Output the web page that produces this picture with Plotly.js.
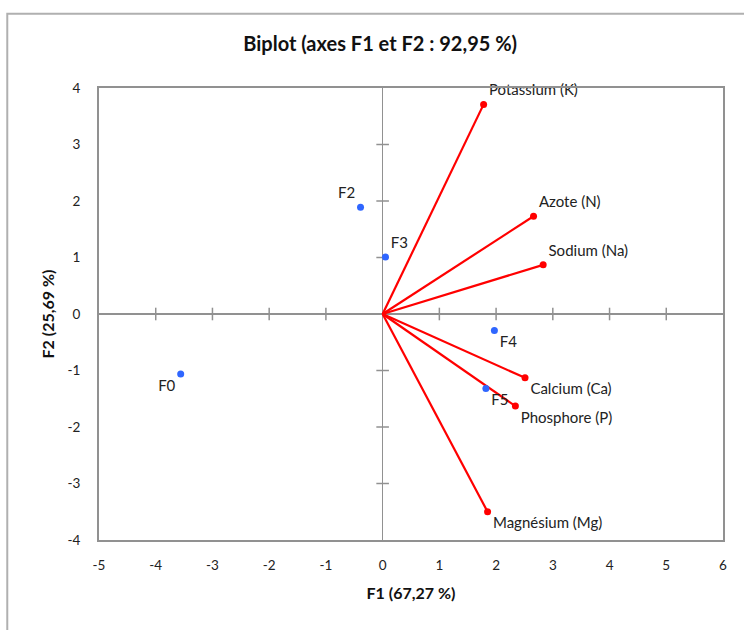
<!DOCTYPE html>
<html>
<head>
<meta charset="utf-8">
<script src="https://cdn.plot.ly/plotly-3.0.1.min.js"></script>
<style>html,body{margin:0;padding:0;background:#fff;}#chart{width:744px;height:630px;}</style>
</head>
<body>
<div id="chart"></div>
<script>
// Observations (blue points)
const obsNames = ["F0", "F2", "F3", "F4", "F5"];
const obsF1 = [-3.56, -0.39, 0.05, 1.97, 1.82];
const obsF2 = [-1.06, 1.89, 1.01, -0.29, -1.32];

// Variables (red vectors)
const varNames = ["Potassium (K)", "Azote (N)", "Sodium (Na)", "Calcium (Ca)", "Phosphore (P)", "Magnésium (Mg)"];
const varF1 = [1.78, 2.66, 2.83, 2.51, 2.34, 1.85];
const varF2 = [3.71, 1.73, 0.87, -1.13, -1.63, -3.50];

// Axis ticks
const xTicks = [-5, -4, -3, -2, -1, 0, 1, 2, 3, 4, 5, 6];
const yTicks = [-4, -3, -2, -1, 0, 1, 2, 3, 4];

// label placement (style)
const obsTextPos = ["bottom left", "top left", "top right", "bottom right", "bottom right"];
const varTextPos = ["top right", "top right", "top right", "bottom right", "bottom right", "bottom right"];

const FONT = "Lato, 'Liberation Sans', sans-serif";
const RED = "#ff0000";
const BLUE = "#2f66ff";
const GREY = "#919191";

// vector lines
const lx = [], ly = [];
varF1.forEach((v, i) => { lx.push(0, v, null); ly.push(0, varF2[i], null); });

// cross ticks on zero lines
const xt = xTicks.filter(t => t !== 0 && t !== xTicks[0] && t !== xTicks[xTicks.length - 1]);
const yt = yTicks.filter(t => t !== 0 && t !== yTicks[0] && t !== yTicks[yTicks.length - 1]);

const traces = [
  {
    x: xt, y: xt.map(() => 0), mode: "markers", type: "scatter", hoverinfo: "skip",
    marker: {symbol: "line-ns", size: 9, line: {color: GREY, width: 1.5}}, showlegend: false
  },
  {
    x: yt.map(() => 0), y: yt, mode: "markers", type: "scatter", hoverinfo: "skip",
    marker: {symbol: "line-ew", size: 9, line: {color: GREY, width: 1.5}}, showlegend: false
  },
  {
    x: lx, y: ly, mode: "lines", type: "scatter", connectgaps: false,
    line: {color: RED, width: 2.2}, showlegend: false
  },
  {
    x: varF1, y: varF2, text: varNames, mode: "markers+text", type: "scatter",
    textposition: varTextPos, cliponaxis: false,
    textfont: {family: FONT, size: 15, color: "#222"},
    marker: {color: RED, size: 7}, showlegend: false
  },
  {
    x: obsF1, y: obsF2, text: obsNames, mode: "markers+text", type: "scatter",
    textposition: obsTextPos, cliponaxis: false,
    textfont: {family: FONT, size: 15, color: "#222"},
    marker: {color: BLUE, size: 7}, showlegend: false
  }
];

const layout = {
  width: 744, height: 630,
  margin: {l: 99, r: 21, t: 88, b: 90},
  paper_bgcolor: "#fff", plot_bgcolor: "#fff",
  font: {family: FONT, size: 13, color: "#222"},
  title: {
    text: "<b>Biplot (axes F1 et F2 : 92,95 %)</b>",
    font: {family: FONT, size: 20, color: "#111"},
    xref: "container", x: 0.511, xanchor: "center",
    yref: "container", y: 0.93, yanchor: "middle"
  },
  xaxis: {
    range: [xTicks[0], xTicks[xTicks.length - 1]],
    tickvals: xTicks, ticktext: xTicks.map(String),
    showgrid: false, zeroline: true, zerolinecolor: GREY, zerolinewidth: 1.5,
    showline: true, mirror: true, linecolor: GREY, linewidth: 2,
    ticks: "", ticklabelstandoff: 12,
    tickfont: {family: FONT, size: 13.5, color: "#222"},
    title: {text: "<b>F1 (67,27 %)</b>", font: {family: FONT, size: 16, color: "#111"}, standoff: 16}
  },
  yaxis: {
    range: [yTicks[0], yTicks[yTicks.length - 1]],
    tickvals: yTicks, ticktext: yTicks.map(String),
    showgrid: false, zeroline: true, zerolinecolor: GREY, zerolinewidth: 1.5,
    showline: true, mirror: true, linecolor: GREY, linewidth: 2,
    ticks: "", ticklabelstandoff: 14,
    tickfont: {family: FONT, size: 13.5, color: "#222"},
    title: {text: "<b>F2 (25,69 %)</b>", font: {family: FONT, size: 16, color: "#111"}, standoff: 9}
  },
  shapes: [{
    type: "rect", xref: "paper", yref: "paper",
    x0: -0.147, x1: 1.2, y0: -0.4, y1: 1.164,
    line: {color: "#b0b0b0", width: 2}, fillcolor: "rgba(0,0,0,0)", layer: "below"
  }]
};

Plotly.newPlot("chart", traces, layout, {displayModeBar: false, staticPlot: true});
</script>
</body>
</html>
